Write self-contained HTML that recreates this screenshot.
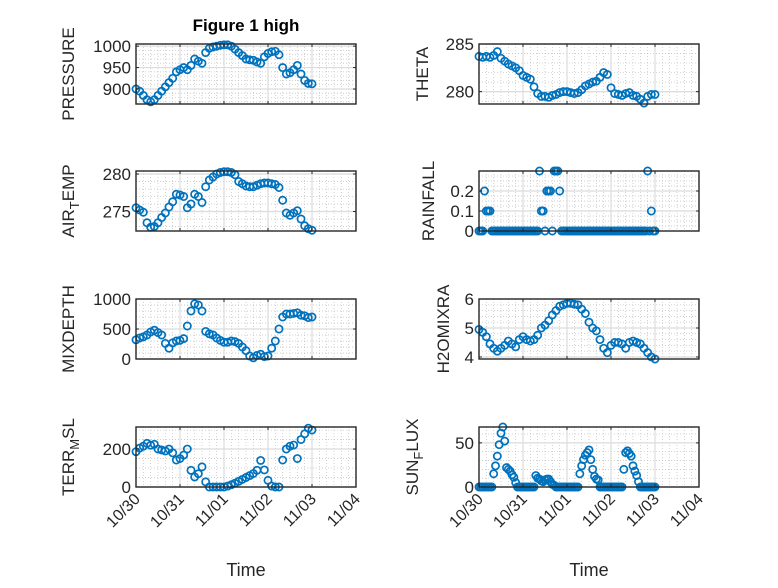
<!DOCTYPE html>
<html><head><meta charset="utf-8"><style>
html,body{margin:0;padding:0;background:#fff;}
svg text{font-family:"Liberation Sans",sans-serif;fill:#262626;}
</style></head><body>
<svg id="fig" width="778" height="583" viewBox="0 0 778 583" xmlns="http://www.w3.org/2000/svg">
<rect width="778" height="583" fill="#fff"/>
<text x="246" y="31" text-anchor="middle" font-size="17" font-weight="bold" style="fill:#000">Figure 1 high</text>
</svg>
<script>
const dayLabels = ["10/30","10/31","11/01","11/02","11/03","11/04"];
const pressure = [900,895,885,875,870,875,885,895,905,915,925,940,945,950,945,955,970,965,960,985,995,998,1000,1002,1003,1003,1000,993,985,978,970,968,967,963,960,975,983,987,988,980,950,935,938,945,955,935,920,913,912];
const theta = [283.7,283.6,283.7,283.6,283.8,284.2,283.5,283.2,282.9,282.7,282.5,282.2,281.7,281.5,281.3,280.5,279.8,279.5,279.5,279.4,279.6,279.7,279.9,280,280,279.9,279.8,279.9,280.2,280.6,280.8,281,281.1,281.5,282,281.8,280.4,279.8,279.7,279.6,279.8,279.9,279.6,279.5,279.2,278.8,279.5,279.7,279.7];
const airTemp = [275.5,275.2,274.9,273.5,272.9,273,273.5,274.2,274.8,275.6,276.3,277.3,277.2,277,275.5,276,277.3,277,276.2,278.3,279.2,279.6,280,280.2,280.3,280.3,280.2,279.9,279,278.7,278.4,278.3,278.3,278.5,278.7,278.8,278.8,278.7,278.6,278.2,276.5,274.8,274.5,274.8,275.1,274,273.1,272.7,272.5];
const rainfall = [0,0,0,0.2,0.1,0.1,0.1,0,0,0,0,0,0,0,0,0,0,0,0,0,0,0,0,0,0,0,0,0,0,0,0,0,0,0.3,0.1,0.1,0,0.2,0.2,0.2,0,0.3,0.3,0.3,0.2,0,0,0,0,0,0,0,0,0,0,0,0,0,0,0,0,0,0,0,0,0,0,0,0,0,0,0,0,0,0,0,0,0,0,0,0,0,0,0,0,0,0,0,0,0,0,0,0.3,0,0.1,0,0];
const mixDepth = [320,350,370,400,450,480,440,400,260,180,270,300,310,340,550,800,920,900,800,460,420,400,350,310,280,280,300,290,260,200,140,50,20,60,80,40,50,180,300,500,700,750,750,760,770,730,720,690,700];
const h2oMix = [4.95,4.85,4.7,4.45,4.3,4.2,4.3,4.4,4.55,4.45,4.35,4.6,4.7,4.6,4.55,4.6,4.75,5.0,5.1,5.25,5.45,5.6,5.75,5.8,5.85,5.85,5.82,5.8,5.65,5.5,5.2,5.0,4.9,4.6,4.3,4.15,4.4,4.5,4.5,4.45,4.3,4.5,4.55,4.5,4.45,4.3,4.15,4.0,3.93];
const terrMsl = [186,205,215,230,220,225,200,195,190,200,180,142,150,168,200,88,53,70,106,27,0,0,0,0,0,5,12,20,30,40,50,60,71,88,140,90,35,5,0,0,142,200,215,221,150,250,280,310,300];
const sunFlux = [0,0,0,0,0,0,0,0,15,24,35,48,61,68,52,22,20,18,14,11,5,0,0,0,0,0,0,0,0,0,0,13,10,9,7,6,8,9,9,6,3,2,0,0,0,0,0,0,0,0,0,0,0,0,0,15,24,31,36,39,42,31,20,12,9,8,0,0,0,0,0,0,0,0,0,0,0,0,0,20,39,41,38,35,24,18,13,6,0,0,0,0,0,0,0,0,0];
const pressureTicks=[900,950,1000], thetaTicks=[280,285], airTicks=[275,280], rainTicks=[0,0.1,0.2], mixTicks=[0,500,1000], h2oTicks=[4,5,6], terrTicks=[0,200], sunTicks=[0,50];

const NS="http://www.w3.org/2000/svg";
const svg=document.getElementById('fig');
function mk(tag,attrs,parent){const e=document.createElementNS(NS,tag);for(const k in attrs)e.setAttribute(k,attrs[k]);(parent||svg).appendChild(e);return e;}

const panels=[
 {name:'pressure',vals:pressure,step:2,lim:[865,1005],ticks:pressureTicks,minor:10,left:136,top:44,label:['PRESSURE'],lx:66,xt:false},
 {name:'theta',vals:theta,step:2,lim:[278.7,285],ticks:thetaTicks,minor:1,left:479,top:44,label:['THETA'],lx:420,xt:false},
 {name:'air-temp',vals:airTemp,step:2,lim:[272.4,280.4],ticks:airTicks,minor:1,left:136,top:171,label:['AIR','T','EMP'],lx:66,xt:false},
 {name:'rainfall',vals:rainfall,step:1,lim:[0,0.3],ticks:rainTicks,minor:0.025,left:479,top:171,label:['RAINFALL'],lx:426,xt:false},
 {name:'mixdepth',vals:mixDepth,step:2,lim:[0,1000],ticks:mixTicks,minor:100,left:136,top:299,label:['MIXDEPTH'],lx:66,xt:false},
 {name:'h2omixra',vals:h2oMix,step:2,lim:[3.93,6],ticks:h2oTicks,minor:0.2,left:479,top:299,label:['H2OMIXRA'],lx:441,xt:false},
 {name:'terr-msl',vals:terrMsl,step:2,lim:[0,316],ticks:terrTicks,minor:50,left:136,top:427,label:['TERR','M','SL'],lx:66,xt:true},
 {name:'sun-flux',vals:sunFlux,step:1,lim:[0,68],ticks:sunTicks,minor:10,left:479,top:427,label:['SUN','F','LUX'],lx:410,xt:true}
];
const W=220,H=60,DAYS=5;
panels.forEach(p=>{
 const g=mk('g',{});
 
 
 const xs=h=>p.left+h/24*(W/DAYS);
 const ys=v=>p.top+H-(v-p.lim[0])/(p.lim[1]-p.lim[0])*H;
 mk('rect',{x:p.left,y:p.top,width:W,height:H,fill:'#fff'},g);
 for(let h=4;h<DAYS*24;h+=4){if(h%24===0)continue;mk('line',{x1:xs(h),x2:xs(h),y1:p.top,y2:p.top+H,stroke:'#c0c0c0','stroke-width':0.7,'stroke-dasharray':'1,2'},g);}
 const m0=Math.ceil(p.lim[0]/p.minor);
 for(let k=m0;k*p.minor<=p.lim[1]+1e-9;k++){const v=k*p.minor;mk('line',{x1:p.left,x2:p.left+W,y1:ys(v),y2:ys(v),stroke:'#c0c0c0','stroke-width':0.7,'stroke-dasharray':'1,2'},g);}
 for(let d=1;d<DAYS;d++)mk('line',{x1:xs(d*24),x2:xs(d*24),y1:p.top,y2:p.top+H,stroke:'#dcdcdc','stroke-width':1.2},g);
 p.ticks.forEach(v=>{mk('line',{x1:p.left,x2:p.left+W,y1:ys(v),y2:ys(v),stroke:'#dcdcdc','stroke-width':1.2},g);});
 p.vals.forEach((v,i)=>{
  const c=mk('circle',{cx:xs(i*p.step),cy:ys(v),r:3.6,fill:'none',stroke:'#0072BD','stroke-width':1.7},g);
  
  
 });
 mk('rect',{x:p.left,y:p.top,width:W,height:H,fill:'none',stroke:'#262626','stroke-width':1.4},g);
 for(let d=0;d<=DAYS;d++){mk('line',{x1:xs(d*24),x2:xs(d*24),y1:p.top+H,y2:p.top+H-3,stroke:'#262626'},g);mk('line',{x1:xs(d*24),x2:xs(d*24),y1:p.top,y2:p.top+3,stroke:'#262626'},g);}
 p.ticks.forEach(v=>{
  mk('line',{x1:p.left,x2:p.left+3,y1:ys(v),y2:ys(v),stroke:'#262626'},g);
  mk('line',{x1:p.left+W,x2:p.left+W-3,y1:ys(v),y2:ys(v),stroke:'#262626'},g);
  const t=mk('text',{x:p.left-5,y:ys(v)+6,'text-anchor':'end','font-size':17},g);
  
  
  t.textContent=String(v);
 });
 const yl=mk('text',{x:0,y:0,'text-anchor':'middle','font-size':17,transform:`translate(${p.lx+8},${p.top+H/2}) rotate(-90)`},g);
 
 
 if(p.label.length===1){yl.textContent=p.label[0];}
 else{
  const a=mk('tspan',{},yl);a.textContent=p.label[0];
  const b=mk('tspan',{dy:5,'font-size':13},yl);b.textContent=p.label[1];
  const c=mk('tspan',{dy:-5},yl);c.textContent=p.label[2];
 }
 if(p.xt){
  dayLabels.forEach((s,d)=>{
   const t=mk('text',{x:0,y:0,'text-anchor':'end','font-size':16,transform:`translate(${xs(d*24)+5},${p.top+H+13}) rotate(-45)`},g);
   
   
   t.textContent=s;
  });
  const xl=mk('text',{x:p.left+W/2,y:576,'text-anchor':'middle','font-size':18},g);
  
  
  xl.textContent='Time';
 }
});
</script>
</body></html>
